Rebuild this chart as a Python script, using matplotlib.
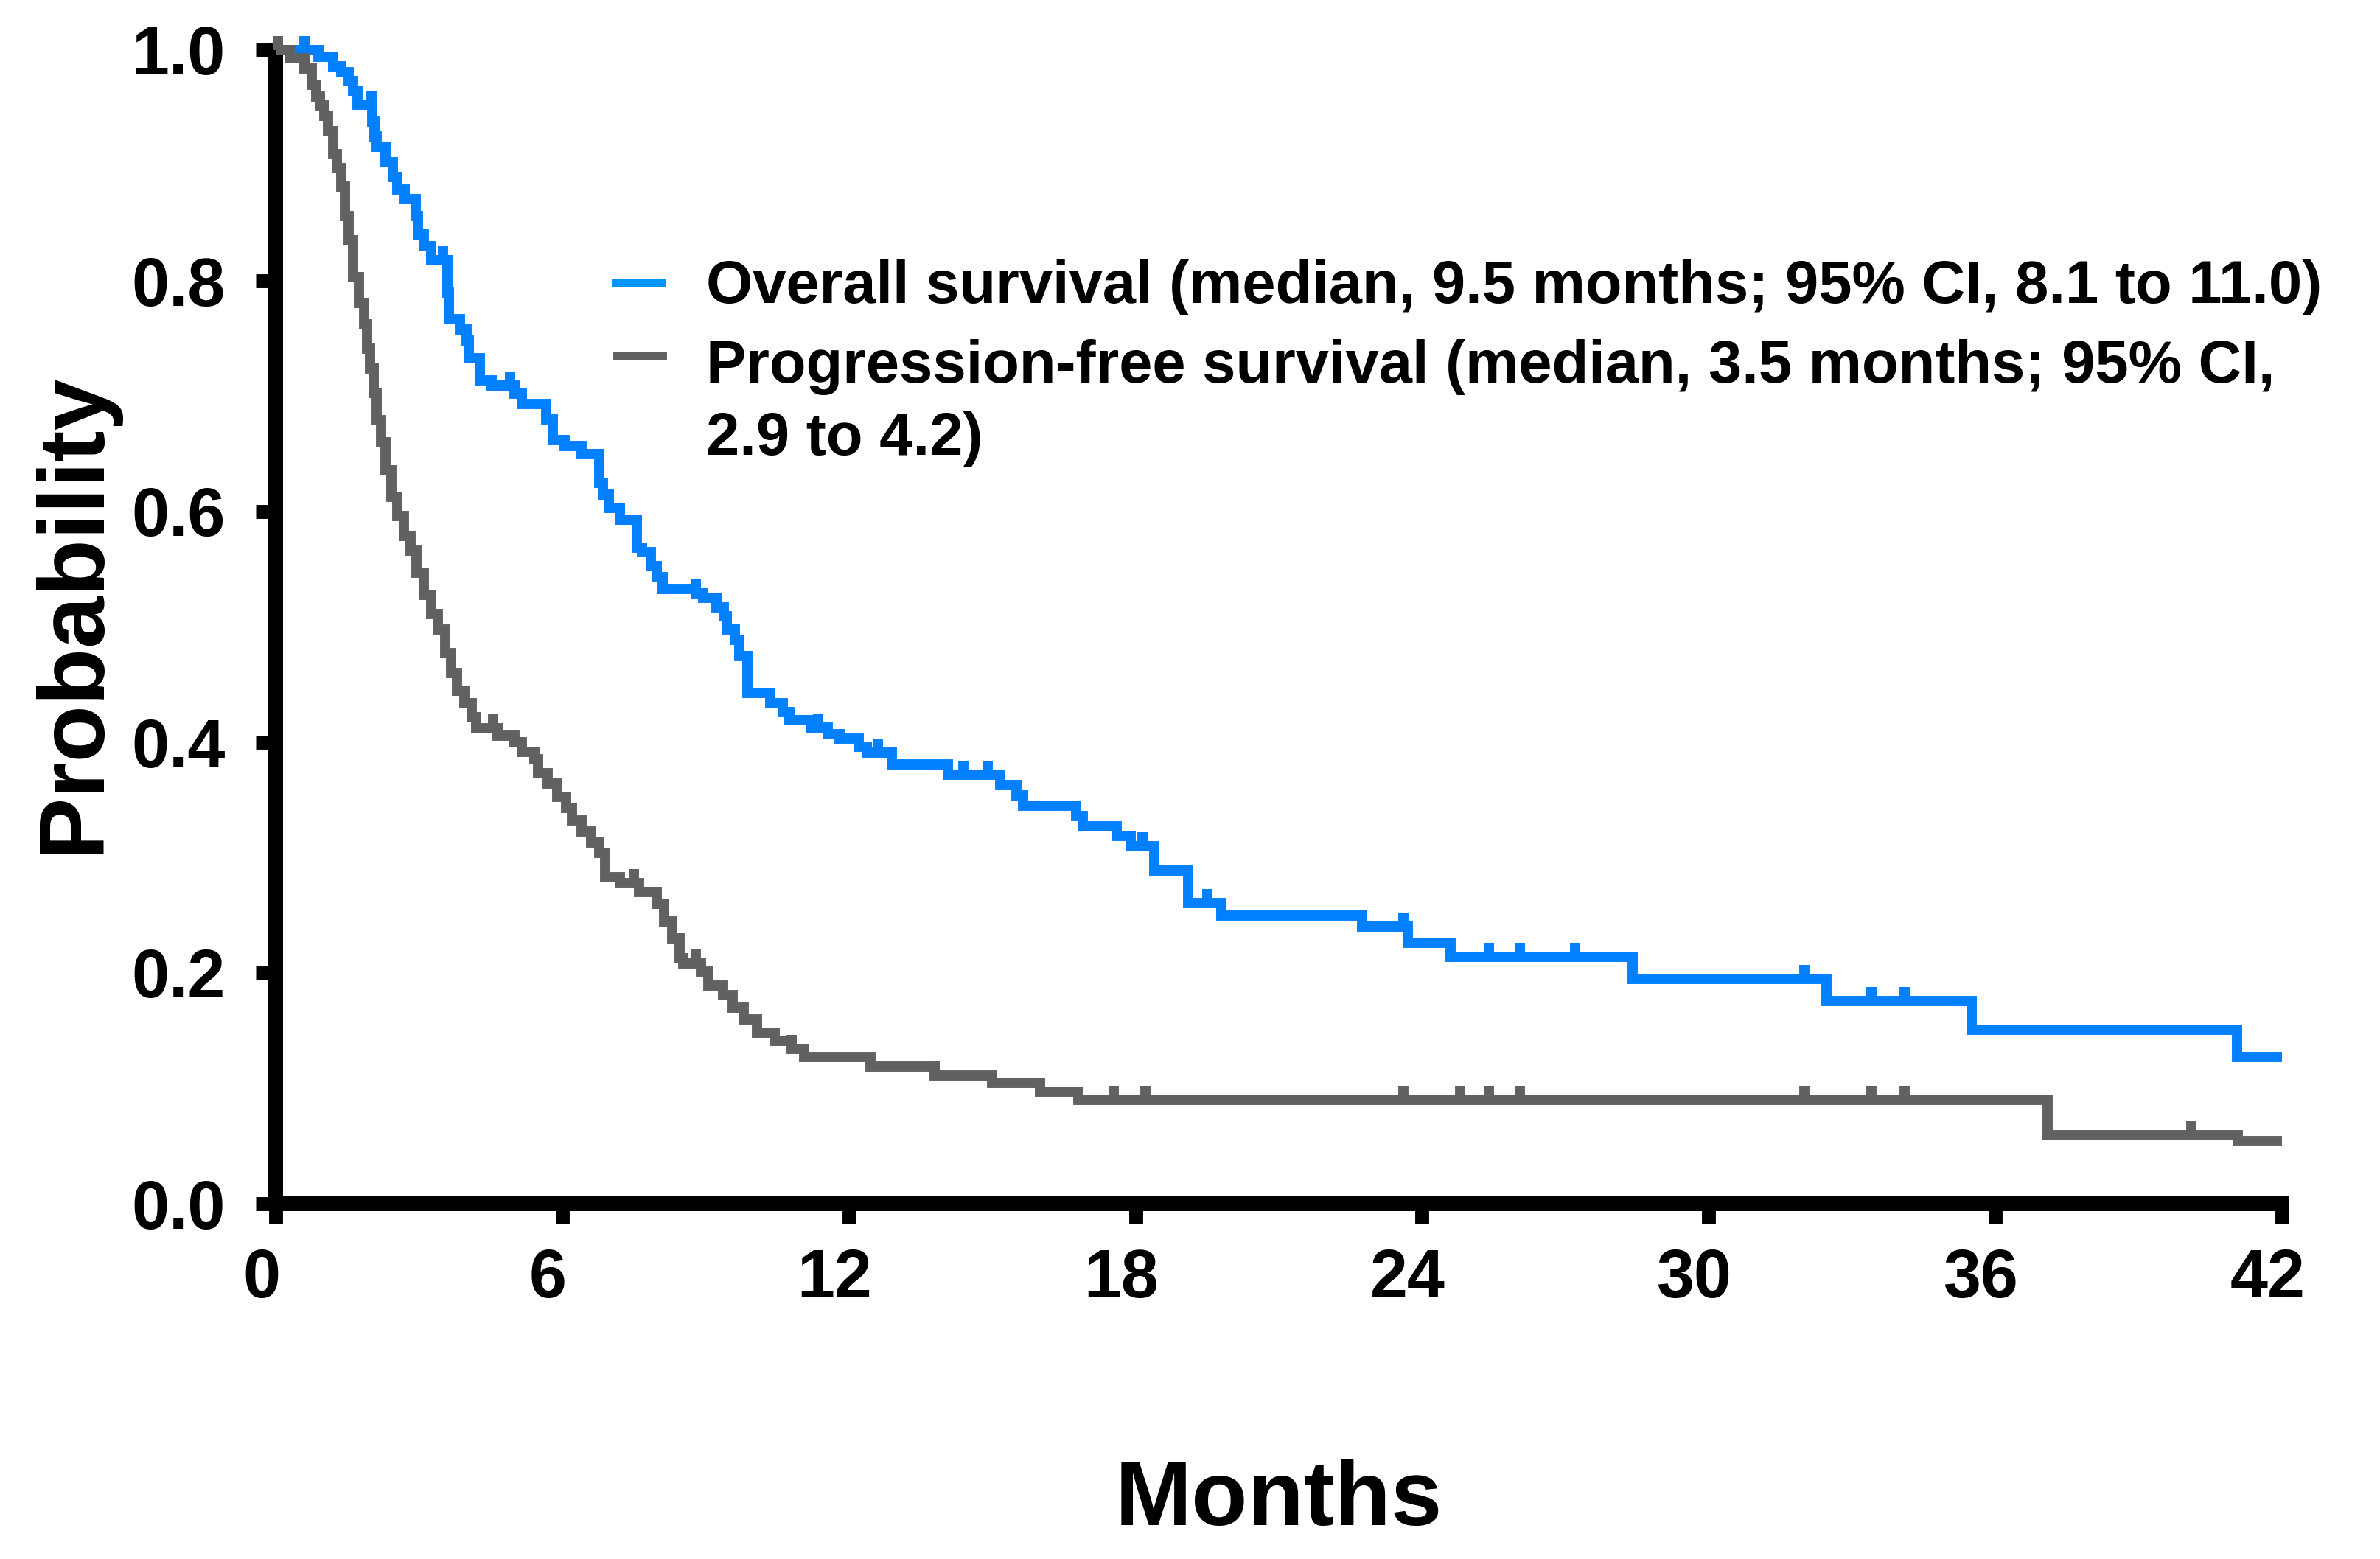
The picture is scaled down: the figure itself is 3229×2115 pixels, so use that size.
import numpy as np
import matplotlib
matplotlib.use("Agg")
import matplotlib.pyplot as plt
import matplotlib.markers as mmarkers
from matplotlib.transforms import ScaledTranslation

# ---------------- data ----------------
os_time = [0, 0.9, 1.2, 1.37, 1.52, 1.62, 1.72, 2.02, 2.07, 2.12, 2.3, 2.45, 2.55, 2.7,
           2.93, 2.98, 3.1, 3.25, 3.6, 3.63, 3.85, 4.0, 4.05, 4.27, 4.52, 5.0, 5.15,
           5.66, 5.8, 6.05, 6.4, 6.78, 6.85, 6.97, 7.2, 7.56, 7.67, 7.85, 7.97, 8.1,
           8.8, 8.95, 9.22, 9.38, 9.45, 9.62, 9.7, 9.88, 10.35, 10.62, 10.76, 11.2,
           11.55, 11.8, 12.2, 12.38, 12.9, 14.07, 15.17, 15.5, 15.65, 16.75, 16.9,
           17.6, 17.9, 18.4, 19.1, 19.8, 22.75, 23.7, 24.6, 28.4, 32.47, 35.5, 41.06, 42]
os_surv = [1.0, 0.994, 0.986, 0.981, 0.973, 0.965, 0.953, 0.938, 0.925, 0.916, 0.903,
           0.890, 0.879, 0.871, 0.856, 0.840, 0.830, 0.818, 0.790, 0.767, 0.758, 0.748,
           0.733, 0.714, 0.709, 0.702, 0.693, 0.680, 0.662, 0.657, 0.650, 0.625, 0.615,
           0.603, 0.593, 0.569, 0.565, 0.553, 0.543, 0.533, 0.529, 0.525, 0.517, 0.509,
           0.498, 0.489, 0.475, 0.443, 0.434, 0.426, 0.419, 0.413, 0.407, 0.403, 0.396,
           0.391, 0.381, 0.372, 0.363, 0.354, 0.345, 0.336, 0.327, 0.319, 0.310, 0.289,
           0.261, 0.250, 0.240, 0.226, 0.214, 0.195, 0.176, 0.151, 0.127, 0.127]
os_censor = [0.6, 1.2, 2.0, 3.5, 4.9, 8.8, 11.35, 12.6, 14.4, 14.9, 18.15, 19.5,
             23.6, 25.4, 26.05, 27.2, 32.0, 33.4, 34.1]

pfs_time = [0, 0.3, 0.6, 0.75, 0.85, 0.92, 1.02, 1.1, 1.2, 1.28, 1.38, 1.45, 1.52, 1.62,
            1.75, 1.85, 1.92, 1.98, 2.05, 2.12, 2.2, 2.3, 2.42, 2.55, 2.68, 2.82, 2.95,
            3.1, 3.25, 3.4, 3.55, 3.68, 3.8, 3.95, 4.1, 4.2, 4.65, 5.0, 5.15, 5.42, 5.5,
            5.7, 5.9, 6.08, 6.2, 6.4, 6.6, 6.78, 6.9, 7.2, 7.6, 7.98, 8.13, 8.3, 8.45,
            8.53, 8.9, 9.06, 9.37, 9.57, 9.8, 10.08, 10.45, 10.8, 11.06, 12.45, 13.8,
            15.0, 16.0, 16.8, 37.1, 41.07, 42]
pfs_surv = [1.0, 0.993, 0.984, 0.970, 0.960, 0.952, 0.943, 0.930, 0.910, 0.898, 0.882,
            0.856, 0.835, 0.803, 0.781, 0.762, 0.741, 0.724, 0.703, 0.679, 0.660, 0.636,
            0.613, 0.596, 0.579, 0.566, 0.547, 0.528, 0.511, 0.498, 0.477, 0.460, 0.445,
            0.434, 0.422, 0.412, 0.406, 0.400, 0.392, 0.385, 0.373, 0.364, 0.353, 0.343,
            0.332, 0.323, 0.313, 0.304, 0.283, 0.278, 0.270, 0.260, 0.245, 0.230, 0.213,
            0.208, 0.201, 0.189, 0.181, 0.170, 0.160, 0.148, 0.141, 0.134, 0.127, 0.119,
            0.111, 0.105, 0.097, 0.090, 0.0594, 0.0545, 0.0545]
pfs_censor = [0.05, 0.6, 4.55, 7.5, 8.8, 10.8, 13.8, 16.0, 17.55, 18.2, 23.6, 24.8,
              25.4, 26.05, 32.0, 33.4, 34.1, 40.1]

x_ticks = [0, 6, 12, 18, 24, 30, 36, 42]
y_ticks = [0.0, 0.2, 0.4, 0.6, 0.8, 1.0]
y_ticklabels = ["0.0", "0.2", "0.4", "0.6", "0.8", "1.0"]

legend_lines = [
    "Overall survival (median, 9.5 months; 95% CI, 8.1 to 11.0)",
    "Progression-free survival (median, 3.5 months; 95% CI,",
    "2.9 to 4.2)",
]

# ---------------- style ----------------
BLUE = "#0080FF"
BLUE_LEG = "#0094FF"
GRAY = "#616161"
FONT = ["Liberation Sans", "DejaVu Sans"]
plt.rcParams["font.family"] = FONT
plt.rcParams["font.weight"] = "bold"

DPI = 200
fig = plt.figure(figsize=(3230 / DPI, 2115 / DPI), dpi=DPI)
ax = fig.add_axes([374 / 3230, (2115 - 1633) / 2115, 2722 / 3230, 1565 / 2115])


def step_value(times, surv, t):
    idx = np.searchsorted(np.asarray(times), t, side="right") - 1
    return np.asarray(surv)[idx]


for times, surv, cens, col in [(os_time, os_surv, os_censor, BLUE),
                               (pfs_time, pfs_surv, pfs_censor, GRAY)]:
    ax.step(times, surv, where="post", color=col, lw=5.0, clip_on=False,
            solid_joinstyle="miter", solid_capstyle="butt", zorder=3)
    ax.plot(cens, step_value(times, surv, cens), linestyle="none",
            marker=mmarkers.TICKUP, markersize=6.8, markeredgewidth=5.0,
            color=col, clip_on=False, zorder=3)

ax.set_xlim(0, 42)
ax.set_ylim(0, 1.0)
ax.set_xticks(x_ticks)
ax.set_xticklabels([str(v) for v in x_ticks])
ax.set_yticks(y_ticks)
ax.set_yticklabels(y_ticklabels)

for side in ["top", "right"]:
    ax.spines[side].set_visible(False)
for side in ["left", "bottom"]:
    ax.spines[side].set_linewidth(7.2)
    ax.spines[side].set_color("black")
    ax.spines[side].set_capstyle("projecting")

ax.tick_params(axis="both", which="major", length=9.7, width=6.8, color="black",
               direction="out", labelsize=33)
ax.tick_params(axis="y", pad=15)
ax.tick_params(axis="x", pad=12)
for lab in ax.get_xticklabels() + ax.get_yticklabels():
    lab.set_fontweight("bold")
    lab.set_fontfamily(FONT)
off = ScaledTranslation(-7 / 72, 0, fig.dpi_scale_trans)
for lab in ax.get_xticklabels():
    lab.set_transform(lab.get_transform() + off)

# legend (manual)
ax.plot([7.04, 8.16], [0.798, 0.798], color=BLUE_LEG, lw=4.3, solid_capstyle="butt",
        clip_on=False)
ax.plot([7.07, 8.2], [0.735, 0.735], color=GRAY, lw=4.3, solid_capstyle="butt",
        clip_on=False)
for txt, yb in zip(legend_lines, [0.781, 0.712, 0.649]):
    ax.text(9.01, yb, txt, fontsize=29.3, fontweight="bold", va="baseline",
            ha="left", family=FONT)

fig.text(0.537, 0.0217, "Months", fontsize=45, fontweight="bold", ha="center",
         va="baseline", family=FONT)
fig.text(0.031, 0.607, "Probability", fontsize=45.5, fontweight="bold", ha="center",
         va="center", rotation=90, family=FONT)

fig.savefig("out.png", dpi=DPI, facecolor="white")
